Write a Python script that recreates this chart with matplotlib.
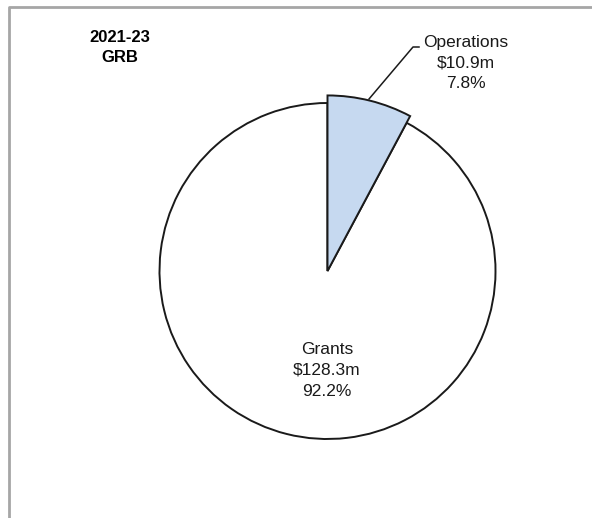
import numpy as np
import matplotlib
matplotlib.use('Agg')
import matplotlib.pyplot as plt

# données du graphique
labels = ['Operations', 'Grants']
amounts = [10.9, 128.3]      # en millions de $
shares = [7.8, 92.2]         # en %
colors = ['#c6d9f0', 'white']
title_lines = ['2021-23', 'GRB']

W, H = 592, 518
plt.rcParams['font.family'] = ['Liberation Sans', 'DejaVu Sans']

fig = plt.figure(figsize=(W / 100, H / 100), dpi=100)
ax = fig.add_axes([0, 0, 1, 1])
ax.set_xlim(0, W)
ax.set_ylim(0, H)
ax.set_aspect('equal')
ax.axis('off')

def Y(py):
    return H - py

cx, cy, r = 327.5, 271, 168

# cadre gris
ax.plot([9, 9, W + 5], [Y(H + 5), Y(6.5), Y(6.5)], color='#a6a6a6', lw=2, solid_capstyle='butt')

wedges, _ = ax.pie(shares, colors=colors, startangle=90, counterclock=False,
                   center=(cx, Y(cy)), radius=r,
                   wedgeprops=dict(edgecolor='#1a1a1a', linewidth=1.4))
ax.set_xlim(0, W)
ax.set_ylim(0, H)
# la part "Operations" est dessinée un peu plus grande
wedges[0].set_radius(r * 1.045)
wedges[0].set_zorder(3)

# titre
ax.text(120, Y(37), title_lines[0], ha='center', va='center', fontsize=12, fontweight='bold')
ax.text(120, Y(58), title_lines[1], ha='center', va='center', fontsize=12, fontweight='bold')

def lab(i):
    return [labels[i], '$%.1fm' % amounts[i], '%.1f%%' % shares[i]]

# étiquette Operations + ligne de rappel
ax.plot([369, 413, 419], [Y(99), Y(47), Y(47)], color='#1a1a1a', lw=1.1)
for k, s in enumerate(lab(0)):
    ax.text(466, Y(43 + 20 * k), s, ha='center', va='center', fontsize=12.5, color='#1a1a1a')

# étiquette Grants
for k, s in enumerate(lab(1)):
    ax.text(327, Y(350 + 20.5 * k), s, ha='center', va='center', fontsize=12.5, color='#1a1a1a')

fig.savefig('out.png', dpi=100)
